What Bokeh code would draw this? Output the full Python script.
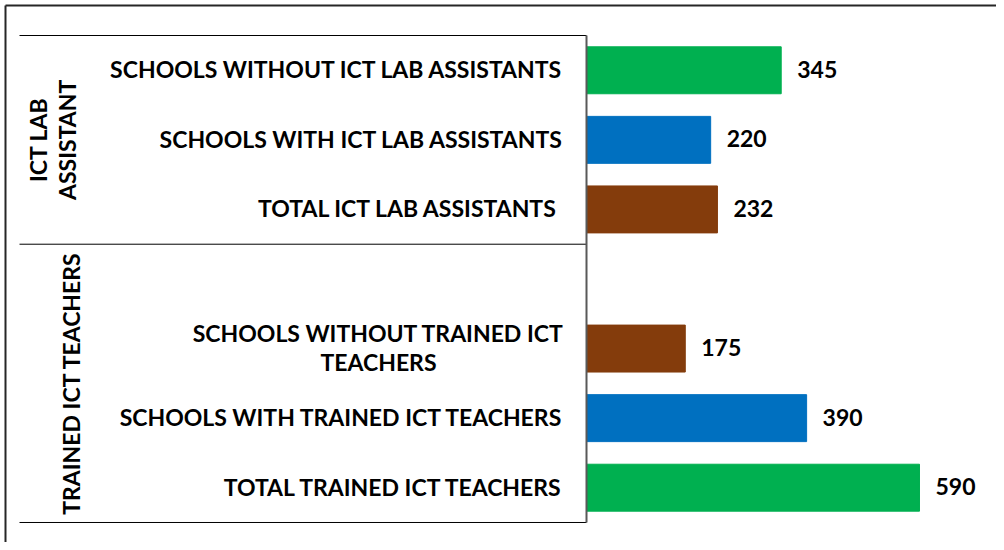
import math
from bokeh.plotting import figure
from bokeh.models import Range1d, ColumnDataSource
from bokeh.core.properties import value
from bokeh.embed import file_html
from bokeh.resources import INLINE

# ---------------- data ----------------
categories = [
    "SCHOOLS WITHOUT ICT LAB ASSISTANTS",
    "SCHOOLS WITH ICT LAB ASSISTANTS",
    "TOTAL  ICT LAB ASSISTANTS",
    "SCHOOLS WITHOUT TRAINED ICT\nTEACHERS",
    "SCHOOLS WITH TRAINED ICT TEACHERS",
    "TOTAL TRAINED ICT TEACHERS",
]
values = [345, 220, 232, 175, 390, 590]
group_index = [0, 0, 0, 1, 1, 1]
groups = ["ICT LAB\nASSISTANT", "TRAINED ICT TEACHERS"]
bar_colors = ["#00B050", "#0070C0", "#843C0C", "#843C0C", "#0070C0", "#00B050"]

# ---------------- layout ----------------
W, H = 996, 542
axis_px = 586          # canvas x where value 0 sits
px_per_unit = 0.5644   # horizontal scale
slot_px = 69.57        # height of one category slot
top_px = 35            # canvas y of the top of the first slot
border_px = 5          # canvas position of the outer border

x_start = -axis_px / px_per_unit
x_end = (W - axis_px) / px_per_unit
y_top = -0.5 - top_px / slot_px
y_bottom = y_top + H / slot_px

ys = [i + g for i, g in enumerate(group_index)]
labels_single = [c if "\n" not in c else "" for c in categories]
labels_multi = [c if "\n" in c else "" for c in categories]

src = ColumnDataSource(dict(
    y=ys, value=values, color=bar_colors, cat=labels_single, catm=labels_multi,
    vtxt=[str(v) for v in values], zero=[0] * len(values),
))

p = figure(width=W, height=H, x_range=Range1d(x_start, x_end),
           y_range=Range1d(y_bottom, y_top), output_backend="svg",
           toolbar_location=None, min_border=0)
p.axis.visible = False
p.grid.visible = False
p.outline_line_color = None
p.background_fill_color = "white"
p.border_fill_color = "white"

font = value("Lato")
fs = "23px"

p.hbar(y="y", left="zero", right="value", height=0.675, color="color", source=src)

# value labels
p.text(x="value", y="y", text="vtxt", x_offset=16, y_offset=-1, text_align="left",
       text_baseline="middle", text_font=font, text_font_style="bold",
       text_font_size=fs, text_color="black", source=src)

# category labels
p.text(x="zero", y="y", text="cat", x_offset=-23, y_offset=-1, text_align="right",
       text_baseline="middle", text_font=font, text_font_style="bold",
       text_font_size=fs, text_color="black", source=src)
p.text(x="zero", y="y", text="catm", x_offset=-208, y_offset=-1, text_align="center",
       text_baseline="middle", text_font=font, text_font_style="bold",
       text_font_size=fs, text_color="black", line_height=1.05, source=src)

# group labels and separators
g_lo, g_hi = [], []
for g in range(len(groups)):
    idx = [ys[i] for i in range(len(ys)) if group_index[i] == g]
    lo = min(idx) - 0.5 - (1 if g > 0 else 0)
    hi = max(idx) + 0.5
    g_lo.append(lo)
    g_hi.append(hi)
gsrc = ColumnDataSource(dict(x=[x_start] * len(groups), y=[(a + b) / 2 for a, b in zip(g_lo, g_hi)],
                             text=groups, xo=[52, 70]))
p.text(x="x", y="y", text="text", x_offset="xo", angle=math.pi / 2,
       text_align="center", text_baseline="middle", text_font=font,
       text_font_style="bold", text_font_size=fs, text_color="black",
       line_height=1.05, source=gsrc)

sep_y = sorted(set(g_lo + g_hi))
sep_x0 = x_start + 19 / px_per_unit
p.segment(x0=[sep_x0] * len(sep_y), x1=[0] * len(sep_y), y0=sep_y, y1=sep_y,
          line_color="black", line_width=1)
p.segment(x0=[0], x1=[0], y0=[min(sep_y)], y1=[max(sep_y)],
          line_color="#595959", line_width=2)

# outer border (top and left)
bx = x_start + border_px / px_per_unit
by = y_top + border_px / slot_px
p.segment(x0=[bx, bx], x1=[bx, x_end], y0=[y_bottom, by], y1=[by, by],
          line_color="#262626", line_width=2)

open("out.html", "w").write(file_html(p, INLINE))
